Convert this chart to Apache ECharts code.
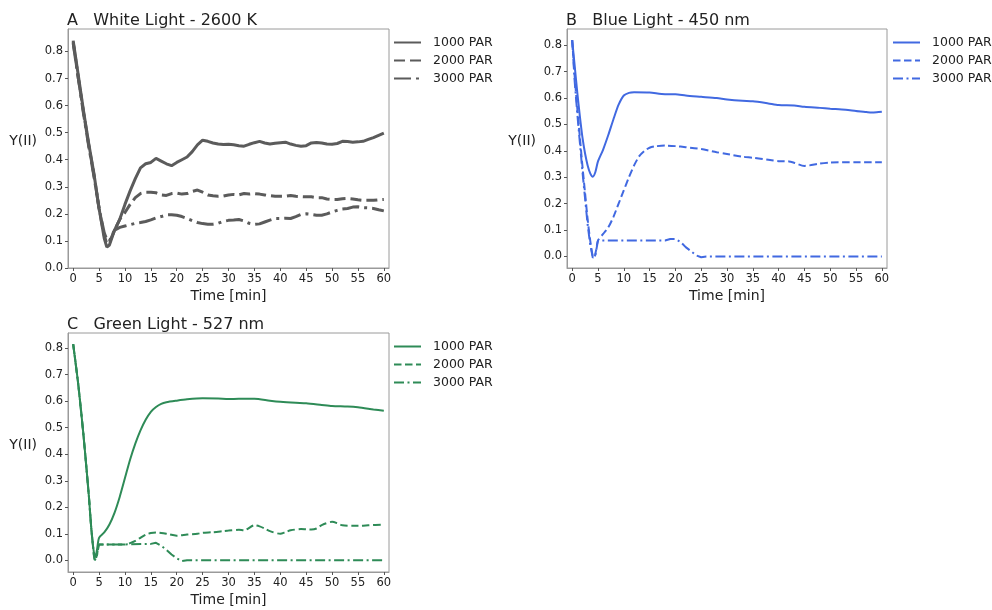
<!DOCTYPE html>
<html>
<head>
<meta charset="utf-8">
<script src="https://cdn.jsdelivr.net/npm/echarts@6/dist/echarts.min.js"></script>
<style>
html,body{margin:0;padding:0;background:#fff}
#main{width:992px;height:610px}
</style>
</head>
<body>
<div id="main"></div>
<script>
var xTicks=[0,5,10,15,20,25,30,35,40,45,50,55,60];
var yTicks=[0,0.1,0.2,0.3,0.4,0.5,0.6,0.7,0.8];
var parNames=['1000 PAR','2000 PAR','3000 PAR'];
var panelTitles=['A   White Light - 2600 K','B   Blue Light - 450 nm','C   Green Light - 527 nm'];

// A - white light, all three runs read at the same times
var whiteT=[0,1,2,3,4,5,6,6.5,7,8,9,10,11,12,13,14,15,16,17,18,19,20,21,22,23,24,25,26,27,28,29,30,31,32,33,34,35,36,37,38,39,40,41,42,43,44,45,46,47,48,49,50,51,52,53,54,55,56,57,58,59,60];
var white1000=[0.84,0.71,0.58,0.46,0.35,0.22,0.11,0.077,0.085,0.14,0.18,0.235,0.285,0.33,0.37,0.385,0.39,0.405,0.395,0.385,0.378,0.39,0.40,0.41,0.43,0.455,0.472,0.468,0.462,0.458,0.456,0.457,0.455,0.452,0.45,0.457,0.463,0.468,0.462,0.458,0.461,0.463,0.465,0.458,0.453,0.45,0.452,0.462,0.464,0.462,0.458,0.457,0.46,0.468,0.467,0.465,0.466,0.468,0.475,0.482,0.49,0.498];
var white2000=[0.835,0.70,0.575,0.455,0.345,0.22,0.12,0.09,0.095,0.14,0.18,0.205,0.235,0.26,0.275,0.28,0.28,0.278,0.27,0.268,0.275,0.277,0.273,0.275,0.283,0.288,0.28,0.27,0.267,0.265,0.266,0.27,0.272,0.27,0.275,0.273,0.275,0.273,0.27,0.267,0.265,0.265,0.265,0.268,0.265,0.264,0.263,0.263,0.26,0.26,0.255,0.253,0.253,0.256,0.257,0.255,0.252,0.25,0.25,0.25,0.252,0.253];
var white3000=[0.83,0.70,0.57,0.45,0.34,0.22,0.13,0.105,0.10,0.14,0.15,0.155,0.16,0.165,0.168,0.172,0.178,0.185,0.19,0.196,0.197,0.195,0.19,0.183,0.175,0.168,0.164,0.162,0.162,0.165,0.172,0.176,0.177,0.179,0.174,0.165,0.161,0.163,0.17,0.177,0.183,0.183,0.184,0.183,0.19,0.198,0.2,0.198,0.195,0.195,0.2,0.207,0.213,0.218,0.22,0.225,0.226,0.223,0.222,0.22,0.215,0.211];

// B - blue light
var blueT1000=[0,0.5,1,1.5,2,2.5,3,3.5,4,4.5,5,6,7,8,9,10,11,12,15,18,20,22,25,28,30,33,35,38,40,43,45,48,50,53,55,57,58,59,60];
var blue1000=[0.82,0.72,0.62,0.53,0.45,0.39,0.345,0.315,0.302,0.32,0.36,0.405,0.46,0.52,0.575,0.61,0.62,0.622,0.621,0.615,0.615,0.61,0.605,0.6,0.595,0.59,0.588,0.58,0.574,0.572,0.567,0.563,0.56,0.556,0.551,0.547,0.545,0.546,0.548];
var blueT2000=[0,0.5,1,1.5,2,2.5,3,3.5,4,4.3,4.6,5,6,7,8,9,10,11,12,13,14,15,16,18,20,22,25,28,30,33,35,38,40,42,43,45,46,48,50,55,60];
var blue2000=[0.82,0.68,0.56,0.45,0.34,0.24,0.14,0.06,0.0,-0.003,0.02,0.06,0.085,0.11,0.15,0.2,0.25,0.3,0.345,0.38,0.4,0.412,0.417,0.42,0.418,0.414,0.407,0.395,0.388,0.378,0.374,0.366,0.361,0.36,0.355,0.343,0.345,0.352,0.356,0.357,0.357];
var blueT3000=[0,0.5,1,1.5,2,2.5,3,3.5,4,4.5,5,10,15,18,19,20,21,22,23,24,25,26,30,40,50,60];
var blue3000=[0.82,0.66,0.54,0.43,0.32,0.22,0.12,0.045,-0.005,0.005,0.06,0.06,0.06,0.06,0.066,0.066,0.055,0.035,0.02,0.004,-0.003,0.0,0.0,0.0,0.0,0.0];

// C - green light
var greenT1000=[0,1,2,3,3.5,4,4.3,4.6,5,6,7,8,9,10,11,12,13,14,15,16,17,18,20,22,25,28,30,32,35,38,40,43,45,48,50,53,55,58,60];
var green1000=[0.815,0.66,0.47,0.25,0.12,0.03,0.015,0.04,0.085,0.105,0.135,0.18,0.24,0.31,0.38,0.44,0.49,0.53,0.56,0.578,0.59,0.596,0.602,0.607,0.611,0.61,0.608,0.609,0.609,0.602,0.598,0.594,0.592,0.586,0.582,0.58,0.577,0.569,0.564];
var greenT2000=[0,1,2,3,3.5,4,4.2,4.6,5,6,8,10,11,12,13,14,15,16,17,18,20,22,24,25,27,29,30,32,33,35,36,37,38,40,41,42,44,45,46,47,48,50,51,52,54,55,57,60];
var green2000=[0.815,0.66,0.47,0.25,0.12,0.02,0.0,0.02,0.06,0.06,0.06,0.06,0.065,0.073,0.085,0.097,0.103,0.105,0.103,0.1,0.093,0.097,0.1,0.104,0.106,0.11,0.112,0.115,0.113,0.132,0.128,0.12,0.11,0.1,0.106,0.113,0.118,0.117,0.116,0.12,0.133,0.145,0.14,0.132,0.13,0.13,0.132,0.135];
var greenT3000=[0,1,2,3,3.5,4,4.2,4.6,5,10,15,16,17,18,19,20,21,22,30,40,50,60];
var green3000=[0.815,0.66,0.47,0.25,0.12,0.02,0.0,0.02,0.06,0.06,0.062,0.066,0.055,0.04,0.022,0.008,-0.003,0.0,0.0,0.0,0.0,0.0];

function pairs(t,v){
    var out=[];
    for(var i=0;i<t.length;i++) out.push([t[i],v[i]]);
    return out;
}

var font='DejaVu Sans';
var grids=[
    {left:68,top:29,width:321,height:239},
    {left:567,top:29,width:320,height:239},
    {left:68,top:333,width:321,height:239}
];
var yRange=[[0,0.883],[-0.044,0.862],[-0.044,0.857]];
var colors=['#5b5b5b','#4169e1','#2e8b57'];
var widths=[3,2,2];
var dashes=[
    ['solid',[11,5],[17,5,3,5]],
    ['solid',[7.5,3.5],[10,3.5,2,3.5]],
    ['solid',[7.5,3.5],[10,3.5,2,3.5]]
];
var panelData=[
    [pairs(whiteT,white1000),pairs(whiteT,white2000),pairs(whiteT,white3000)],
    [pairs(blueT1000,blue1000),pairs(blueT2000,blue2000),pairs(blueT3000,blue3000)],
    [pairs(greenT1000,green1000),pairs(greenT2000,green2000),pairs(greenT3000,green3000)]
];
var legendPos=[[393,36],[892,36],[393,340]];
var titlePos=[[67,13],[566,13],[67,317]];
var prefix=['A ','B ','C '];

var grid=[],xAxis=[],yAxis=[],series=[],legend=[],title=[];
for(var p=0;p<3;p++){
    grid.push({left:grids[p].left,top:grids[p].top,width:grids[p].width,height:grids[p].height,
        show:true,borderColor:'#9a9a9a',borderWidth:1,containLabel:false});
    xAxis.push({
        type:'value',gridIndex:p,min:-1,max:61,
        name:'Time [min]',nameLocation:'middle',nameGap:21,
        nameTextStyle:{fontSize:14,color:'#222',fontFamily:font},
        axisLine:{show:true,onZero:false,lineStyle:{color:'#9a9a9a'}},
        axisTick:{show:true,length:3,customValues:xTicks,lineStyle:{color:'#555'}},
        axisLabel:{customValues:xTicks,margin:5,fontSize:11.5,color:'#222',fontFamily:font},
        splitLine:{show:false}
    });
    yAxis.push({
        type:'value',gridIndex:p,min:yRange[p][0],max:yRange[p][1],
        name:'Y(II)',nameLocation:'middle',nameRotate:0,nameGap:31,
        nameTextStyle:{fontSize:14,color:'#222',fontFamily:font,verticalAlign:'bottom'},
        axisLine:{show:true,onZero:false,lineStyle:{color:'#9a9a9a'}},
        axisTick:{show:true,length:3,customValues:yTicks,lineStyle:{color:'#555'}},
        axisLabel:{customValues:yTicks,margin:5,fontSize:11.5,color:'#222',fontFamily:font,
            formatter:function(v){return v.toFixed(1);}},
        splitLine:{show:false}
    });
    var names=[];
    for(var s=0;s<3;s++){
        var nm=prefix[p]+parNames[s];
        names.push(nm);
        series.push({
            name:nm,type:'line',xAxisIndex:p,yAxisIndex:p,
            data:panelData[p][s],
            symbol:'none',showSymbol:false,
            smooth:(p>0&&s<2)?0.25:false,
            lineStyle:{color:colors[p],width:widths[p],type:dashes[p][s]},
            itemStyle:{color:colors[p]},
            z:2+s
        });
    }
    legend.push({
        orient:'vertical',left:legendPos[p][0],top:legendPos[p][1],padding:0,
        itemWidth:27,itemHeight:14,itemGap:5,selectedMode:false,
        itemStyle:{opacity:0},
        data:names,
        formatter:function(n){return n.slice(2);},
        textStyle:{fontSize:12.5,color:'#222',fontFamily:font,padding:[0,0,0,7]}
    });
    title.push({
        text:panelTitles[p],left:titlePos[p][0],top:titlePos[p][1],padding:0,
        textStyle:{fontSize:16,fontWeight:'normal',color:'#222',fontFamily:font}
    });
}

var mychart=echarts.init(document.getElementById('main'));
var option={
    animation:false,
    backgroundColor:'#fff',
    title:title,
    legend:legend,
    grid:grid,
    xAxis:xAxis,
    yAxis:yAxis,
    series:series
};
mychart.setOption(option);
</script>
</body>
</html>
